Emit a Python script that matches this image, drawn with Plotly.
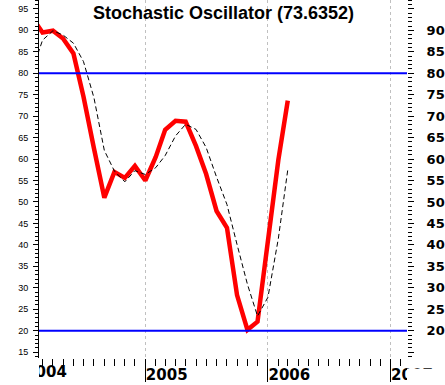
import plotly.graph_objects as go

months = ["2004-02-01", "2004-03-01", "2004-04-01", "2004-05-01", "2004-06-01", "2004-07-01",
          "2004-08-01", "2004-09-01", "2004-10-01", "2004-11-01", "2004-12-01", "2005-01-01",
          "2005-02-01", "2005-03-01", "2005-04-01", "2005-05-01", "2005-06-01", "2005-07-01",
          "2005-08-01", "2005-09-01", "2005-10-01", "2005-11-01", "2005-12-01", "2006-01-01",
          "2006-02-01", "2006-03-01"]
k_values = [92.7, 89.5, 89.9, 88.1, 84.6, 74.5, 62.5, 51.0, 57.0, 55.6, 58.4, 55.0,
            60.5, 66.8, 68.9, 68.7, 63.0, 56.5, 47.9, 44.0, 28.3, 20.2, 22.1, 40.5,
            59.8, 73.6352]
d_values = [81.0, 87.7, 89.9, 88.9, 87.0, 82.7, 74.3, 62.0, 57.2, 54.7, 57.3, 56.4,
            58.0, 60.8, 65.4, 68.1, 66.9, 62.7, 55.8, 49.4, 40.1, 30.8, 23.4, 27.8,
            41.5, 57.5]
levels = [80, 20]
year_ticks = ["2005-01-01", "2006-01-01", "2007-01-01"]
year_labels = ["2005", "2006", "2007"]
first_year_tick = ["2004-02-20"]
first_year_label = ["2004"]
left_ticks = list(range(15, 100, 5))
right_ticks = list(range(15, 100, 5))
right_labels = ["", "20", "25", "30", "35", "40", "45", "50", "55", "60", "65", "70", "75",
                "80", "85", "90", ""]
title_text = "Stochastic Oscillator (73.6352)"
x_range = ["2004-02-19 12:00", "2007-02-18 22:00"]
y_range = [13.64, 97.06]

fig = go.Figure()
fig.add_trace(go.Scatter(x=months, y=k_values, mode="lines",
                         line=dict(color="#ff0000", width=4.5), showlegend=False, hoverinfo="skip"))
fig.add_trace(go.Scatter(x=months, y=d_values, mode="lines",
                         line=dict(color="black", width=1, dash="5px,3px"), showlegend=False,
                         hoverinfo="skip"))
fig.add_trace(go.Scatter(x=[None], y=[None], xaxis="x2", yaxis="y", showlegend=False))
fig.add_trace(go.Scatter(x=[None], y=[None], xaxis="x", yaxis="y2", showlegend=False))

for lv in levels:
    fig.add_shape(type="line", xref="paper", x0=0, x1=1, yref="y", y0=lv, y1=lv,
                  line=dict(color="#0000ff", width=2))

# the year labels are clipped to the plot's width, as in the original
fig.add_shape(type="rect", xref="paper", x0=-0.5, x1=0, yref="paper", y0=-0.5, y1=-0.003,
              fillcolor="white", line=dict(width=0), layer="above")
fig.add_shape(type="rect", xref="paper", x0=1.0, x1=1.5, yref="paper", y0=-0.5, y1=-0.03,
              fillcolor="white", line=dict(width=0), layer="above")

fig.add_annotation(text="<b>" + title_text + "</b>", xref="paper", yref="paper", x=0.5, y=1,
                   xanchor="center", yanchor="top", yshift=-1, showarrow=False,
                   font=dict(family="Liberation Sans", size=18, color="black"))

fig.update_layout(
    width=445, height=385,
    margin=dict(l=39, r=38, t=0, b=27, autoexpand=False),
    paper_bgcolor="white", plot_bgcolor="white",
    showlegend=False,
    xaxis=dict(type="date", range=x_range, tickmode="array", tickvals=year_ticks,
               ticktext=year_labels, ticks="outside", ticklen=23, tickwidth=1,
               tickcolor="black", showline=False, zeroline=False, automargin=False,
               showgrid=True, gridcolor="#c0c0c0", griddash="3px,3px", gridwidth=1,
               ticklabelposition="outside right", ticklabelstandoff=3,
               tickfont=dict(family="DejaVu Sans", size=15, color="black", weight="bold"),
               minor=dict(dtick="M1", tick0="2004-01-01", ticks="outside", ticklen=7,
                          tickcolor="black", showgrid=False)),
    xaxis2=dict(type="date", range=x_range, overlaying="x", anchor="y", side="bottom",
                tickmode="array", tickvals=first_year_tick, ticktext=first_year_label,
                ticks="", showline=False, showgrid=False, zeroline=False, automargin=False,
                ticklabelposition="outside right", ticklabelstandoff=3, ticklabelshift=-14,
                tickfont=dict(family="DejaVu Sans", size=15, color="black", weight="bold")),
    yaxis=dict(range=y_range, tickmode="array", tickvals=left_ticks, ticks="outside",
               ticklen=5, tickcolor="black", showline=True, linecolor="black", linewidth=1,
               showgrid=False, zeroline=False, ticklabelstandoff=3, automargin=False,
               tickfont=dict(family="Liberation Sans", size=9, color="black"),
               minor=dict(dtick=1, ticks="outside", ticklen=3, tickcolor="black",
                          showgrid=False)),
    yaxis2=dict(range=y_range, overlaying="y", side="right", tickmode="array",
                tickvals=right_ticks, ticktext=right_labels, ticks="outside", ticklen=6,
                tickcolor="black", showline=False, showgrid=False, zeroline=False,
                ticklabelstandoff=10, automargin=False,
                tickfont=dict(family="DejaVu Sans", size=13, color="black", weight="bold"),
                minor=dict(dtick=1, ticks="outside", ticklen=4, tickcolor="black",
                           showgrid=False)),
)

fig.write_html("out.html", config={"displayModeBar": False},
               post_script="document.body.style.margin='0';")
